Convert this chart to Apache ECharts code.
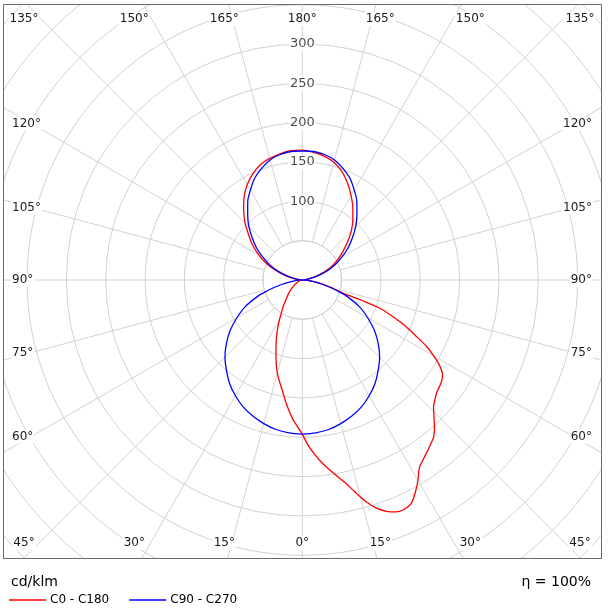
<!DOCTYPE html>
<html><head><meta charset="utf-8">
<script src="https://cdn.jsdelivr.net/npm/echarts@6/dist/echarts.min.js"></script>
<style>html,body{margin:0;padding:0;background:#fff}#c{width:608px;height:613px}</style>
</head><body><div id="c"></div>
<script>
// ---- data (cd/klm) ----
const gammaC0 = [0,2,4,6,8,10,12,14,16,18,20,22,24,26,28,30,32,34,36,38,40,42,44,46,48,50,52,54,56,58,60,62,64,66,68,70,71,72,74,76,80,85,90,95,100,105,110,115,120,125,130,135,140,145,150,155,160,165,170,175,180];
const valuesC0 = [196,210,222,233,243,253,264,278,293,305,313,318,319,316,306,294,281,275,270,265,260,251,241,232,227,223,221,219,215,206,193,178,159,143,124,105,80,55,44,35,20,7,0,3,8,17,29,41,52,63,75,88,100,112,124,136,147,155,160,163,165];
const gammaC180 = [0,2,4,6,8,10,12,14,16,18,20,22,24,27,30,33,36,40,45,50,55,60,70,80,90,95,100,105,110,115,120,125,130,135,140,145,150,155,160,165,170,175,180];
const valuesC180 = [196,186,177,166,155,144,135,127,118,108,98,89,81,69,58,48,41,32,25,19,14,10,5,2,0,5,12,23,37,51,64,77,89,103,116,129,140,149,156,160,163,165,165];
const gammaC90 = [0,5,10,15,20,25,30,35,40,45,50,55,60,65,70,72,75,78,80,83,86,90,95,100,105,110,115,120,125,130,135,140,145,150,155,160,165,170,175,180];
const valuesC90 = [196,195,193,189,184,178,170,161,150,139,126,112,96,80,60,50,38,26,19,10,4,0,4,10,20,33,46,58,71,83,96,108,121,132,143,151,158,162,164,164];
const valuesC270 = [196,195,193,189,184,178,170,161,150,139,126,112,96,80,60,50,38,26,19,10,4,0,4,10,20,33,46,58,71,83,96,108,121,132,143,151,158,162,164,164];
const radiusLabels = [100,150,200,250,300];
const angleSteps = [0,15,30,45,60,75,90,105,120,135,150,165,180,195,210,225,240,255,270,285,300,315,330,345];
const seriesNames = ['C0 - C180','C90 - C270'];
const seriesColors = ['#ff0000','#0000ff'];
const unitText = 'cd/klm';
const etaText = 'η = 100%';

// ---- build ----
const FONT = 'DejaVu Sans';
const CX = 302.3, CY = 280;
const R_OUT = 409, R_MAX = 520, R_INNER_VAL = 50;
const R_IN = R_OUT * R_INNER_VAL / R_MAX;
function loop(gA, vA, gB, vB) {
  const pts = [];
  for (let i = 0; i < gA.length; i++) pts.push([vA[i], gA[i]]);
  for (let i = gB.length - 1; i >= 0; i--) {
    if (gB[i] === 180) continue;
    pts.push([vB[i], 360 - gB[i]]);
  }
  return pts;
}
const redData = loop(gammaC0, valuesC0, gammaC180, valuesC180);
const blueData = loop(gammaC90, valuesC90, gammaC90, valuesC270);

const graphics = [];
graphics.push({type:'rect', z:50, silent:true, shape:{x:0,y:0,width:608,height:4}, style:{fill:'#fff'}});
graphics.push({type:'rect', z:50, silent:true, shape:{x:0,y:559,width:608,height:54}, style:{fill:'#fff'}});
graphics.push({type:'rect', z:50, silent:true, shape:{x:0,y:0,width:3,height:613}, style:{fill:'#fff'}});
graphics.push({type:'rect', z:50, silent:true, shape:{x:602,y:0,width:6,height:613}, style:{fill:'#fff'}});
graphics.push({type:'rect', z:51, silent:true, shape:{x:3.5,y:4.5,width:598,height:554}, style:{fill:null, stroke:'#6a6a6a', lineWidth:1}});

angleSteps.forEach(a => {
  const rad = a * Math.PI / 180;
  const dx = Math.sin(rad), dy = Math.cos(rad);
  const txt = (a <= 180 ? a : 360 - a) + '°';
  let x, y, align = 'center';
  const dev = Math.min(a % 180, 180 - (a % 180));
  if (dev <= 45) {
    const bottom = dy > 0;
    y = bottom ? 543 : 19;
    x = CX + 291 * dx / Math.abs(dy);
    x = Math.max(24, Math.min(580, x));
  } else {
    const right = dx > 0;
    y = CY + 271 * dy / Math.abs(dx);
    x = right ? 593 : 11;
    align = right ? 'right' : 'left';
  }
  graphics.push({type:'text', z:60, silent:true, x:x, y:y,
    style:{text:txt, fill:'#1a1a1a', font:'12px "' + FONT + '"', align:align, verticalAlign:'middle',
      backgroundColor:'#fff', padding:[1,1]}});
});
graphics.push({type:'text', z:60, silent:true, x:11, y:582,
  style:{text:unitText, fill:'#000', font:'14px "' + FONT + '"', align:'left', verticalAlign:'middle'}});
graphics.push({type:'text', z:60, silent:true, x:591, y:582,
  style:{text:etaText, fill:'#000', font:'14px "' + FONT + '"', align:'right', verticalAlign:'middle'}});

const gridStyle = {color:'#d2d2d2', width:1};
const hidden = {axisLine:{show:false}, axisTick:{show:false}, axisLabel:{show:false}, splitLine:{show:false}};
const chart = echarts.init(document.getElementById('c'), null, {renderer:'canvas'});
chart.setOption({
  animation:false,
  backgroundColor:'#fff',
  polar:[
    {center:[CX, CY], radius:[R_IN, R_OUT]},
    {center:[CX, CY], radius:[0, R_OUT]}
  ],
  angleAxis:[
    {polarIndex:0, type:'value', min:0, max:360, interval:15, startAngle:270, clockwise:false,
      axisLine:{show:true, lineStyle:gridStyle}, axisTick:{show:false}, axisLabel:{show:false},
      splitLine:{show:true, lineStyle:gridStyle}},
    Object.assign({polarIndex:1, type:'value', min:0, max:360, startAngle:270, clockwise:false}, hidden)
  ],
  radiusAxis:[
    {polarIndex:0, type:'value', min:R_INNER_VAL, max:R_MAX, interval:50,
      axisLine:{show:false}, axisTick:{show:false}, axisLabel:{show:false},
      splitLine:{show:true, lineStyle:gridStyle}},
    Object.assign({polarIndex:1, type:'value', min:0, max:R_MAX}, hidden)
  ],
  legend:{data:seriesNames, left:9, top:594, padding:0, icon:'rect', itemWidth:37, itemHeight:1.5, itemGap:20,
    z:70, textStyle:{fontFamily:FONT, fontSize:12, color:'#000', padding:[0,0,0,-1]}},
  graphic:graphics,
  series:[
    {name:seriesNames[0], type:'line', coordinateSystem:'polar', polarIndex:1, data:redData, showSymbol:false, symbol:'none',
      smooth:0.3, clip:false, z:3, color:seriesColors[0], lineStyle:{color:seriesColors[0], width:1.3}},
    {name:seriesNames[1], type:'line', coordinateSystem:'polar', polarIndex:1, data:blueData, showSymbol:false, symbol:'none',
      smooth:0.3, clip:false, z:3, color:seriesColors[1], lineStyle:{color:seriesColors[1], width:1.3}},
    {name:'labels', type:'scatter', coordinateSystem:'polar', polarIndex:1, data:radiusLabels.map(r => [r, 180]),
      symbolSize:0, silent:true, z:1,
      label:{show:true, position:'inside', formatter:p => String(p.value[0]), fontFamily:FONT, fontSize:13,
        color:'#1a1a1a', backgroundColor:'#fff', padding:[1,1]}}
  ]
});
</script></body></html>
